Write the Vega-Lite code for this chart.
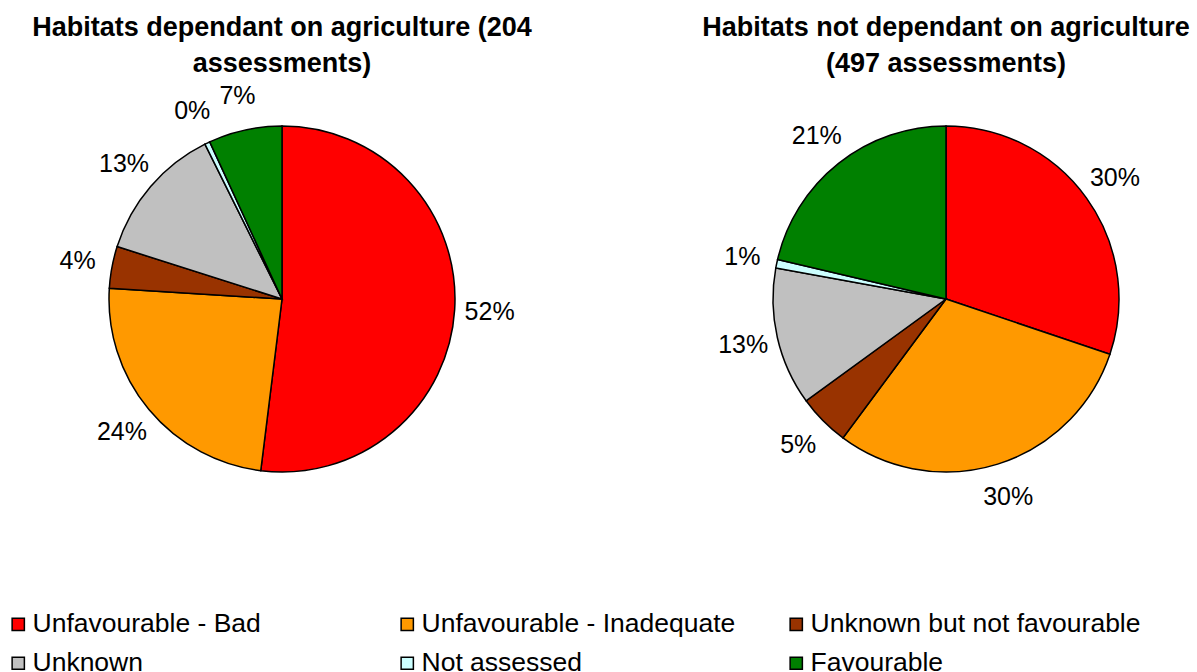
{
  "$schema": "https://vega.github.io/schema/vega-lite/v6.json",
  "background": "white",
  "padding": {"left": 5, "top": 14, "right": 0, "bottom": 0},
  "datasets": {
    "dependant": [
      {"status": "Unfavourable - Bad", "order": 1, "share": 0.5196},
      {"status": "Unfavourable - Inadequate", "order": 2, "share": 0.2402},
      {"status": "Unknown but not favourable", "order": 3, "share": 0.0392},
      {"status": "Unknown", "order": 4, "share": 0.1275},
      {"status": "Not assessed", "order": 5, "share": 0.0049},
      {"status": "Favourable", "order": 6, "share": 0.0686}
    ],
    "notDependant": [
      {"status": "Unfavourable - Bad", "order": 1, "share": 0.3018},
      {"status": "Unfavourable - Inadequate", "order": 2, "share": 0.2998},
      {"status": "Unknown but not favourable", "order": 3, "share": 0.0483},
      {"status": "Unknown", "order": 4, "share": 0.1288},
      {"status": "Not assessed", "order": 5, "share": 0.0080},
      {"status": "Favourable", "order": 6, "share": 0.2133}
    ]
  },
  "spacing": 170,
  "hconcat": [
    {
      "width": 440,
      "height": 440,
      "title": {"text": ["Habitats dependant on agriculture (204", "assessments)"]},
      "data": {"name": "dependant"},
      "encoding": {
        "theta": {"field": "share", "type": "quantitative", "stack": true},
        "order": {"field": "order", "type": "quantitative"}
      },
      "layer": [
        {
          "mark": {"type": "arc", "outerRadius": 173, "stroke": "black", "strokeWidth": 1.5},
          "encoding": {
            "color": {
              "field": "status",
              "type": "nominal",
              "sort": ["Unfavourable - Bad", "Unfavourable - Inadequate", "Unknown but not favourable", "Unknown", "Not assessed", "Favourable"],
              "scale": {
                "domain": ["Unfavourable - Bad", "Unfavourable - Inadequate", "Unknown but not favourable", "Unknown", "Not assessed", "Favourable"],
                "range": ["#FF0000", "#FF9900", "#993300", "#C0C0C0", "#CCFFFF", "#008000"]
              },
              "legend": {
                "title": null,
                "orient": "none",
                "legendX": -57,
                "legendY": 532,
                "direction": "horizontal",
                "columns": 3,
                "gridAlign": "all",
                "columnPadding": 31,
                "rowPadding": 12,
                "symbolType": "square",
                "symbolSize": 150,
                "symbolStrokeColor": "black",
                "symbolStrokeWidth": 1.5,
                "symbolOpacity": 1,
                "labelFontSize": 26.5,
                "labelFont": "Liberation Sans",
                "labelColor": "black",
                "labelLimit": 500,
                "labelOffset": 1
              }
            }
          }
        },
        {
          "mark": {"type": "text", "radius": 208, "fontSize": 25, "font": "Liberation Sans", "color": "black", "align": "center", "baseline": "middle"},
          "encoding": {
            "text": {"field": "share", "type": "quantitative", "format": ".0%"}
          }
        }
      ]
    },
    {
      "width": 440,
      "height": 440,
      "title": {"text": ["Habitats not dependant on agriculture", "(497 assessments)"]},
      "data": {"name": "notDependant"},
      "encoding": {
        "theta": {"field": "share", "type": "quantitative", "stack": true},
        "order": {"field": "order", "type": "quantitative"}
      },
      "layer": [
        {
          "mark": {"type": "arc", "outerRadius": 173, "stroke": "black", "strokeWidth": 1.5},
          "encoding": {
            "color": {"field": "status", "type": "nominal"}
          }
        },
        {
          "mark": {"type": "text", "radius": 208, "fontSize": 25, "font": "Liberation Sans", "color": "black", "align": "center", "baseline": "middle"},
          "encoding": {
            "text": {"field": "share", "type": "quantitative", "format": ".0%"}
          }
        }
      ]
    }
  ],
  "config": {
    "view": {"stroke": null},
    "font": "Liberation Sans",
    "title": {"font": "Liberation Sans", "fontSize": 27, "fontWeight": "bold", "color": "black", "anchor": "middle", "offset": 1, "lineHeight": 36}
  }
}
